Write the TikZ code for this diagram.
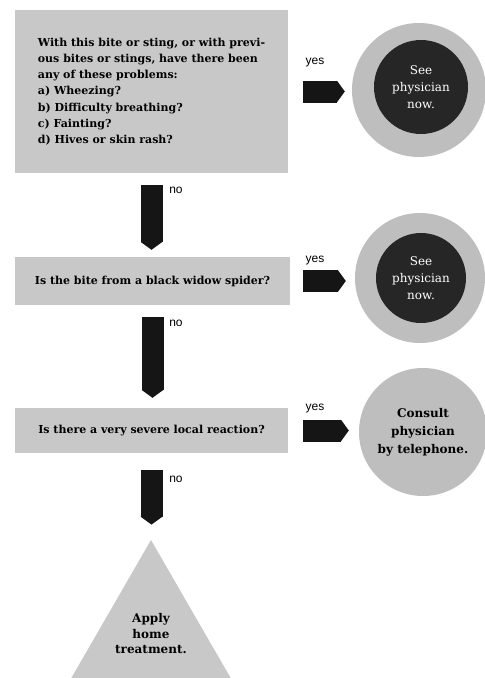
\documentclass[tikz,border=0pt]{standalone}
\usepackage{fontspec}
\setmainfont{DejaVu Serif}
\setsansfont{Liberation Sans}
\usetikzlibrary{arrows.meta,shapes.geometric}
\definecolor{boxgray}{HTML}{C8C8C8}
\definecolor{ringgray}{HTML}{BEBEBE}
\definecolor{darkx}{HTML}{262626}
\definecolor{inkx}{HTML}{151515}
\tikzset{
  qbox/.style={fill=boxgray,minimum width=273pt,inner sep=0pt,font=\bfseries\fontsize{11}{16.2}\selectfont},
  ring/.style={circle,fill=ringgray,inner sep=0pt},
  core/.style={circle,fill=darkx,inner sep=0pt,text=white,align=center,font=\fontsize{12}{17}\selectfont},
  fat/.style={line width=22pt,draw=inkx,-{Triangle[length=8pt,width=22pt,line width=0pt]}},
  lbl/.style={font=\sffamily\fontsize{12}{12}\selectfont,inner sep=0pt}
}
\begin{document}
\begin{tikzpicture}[x=1pt,y=-1pt]
\useasboundingbox[fill=white] (0,0) rectangle (485,678);
% questions
\node[qbox,minimum height=163pt,align=left] (q1) at (151.5,91.5) {With this bite or sting, or with previ-\\ous bites or stings, have there been\\any of these problems:\\a) Wheezing?\\b) Difficulty breathing?\\c) Fainting?\\d) Hives or skin rash?};
\node[qbox,minimum width=275pt,minimum height=48pt] (q2) at (152.5,281) {Is the bite from a black widow spider?};
\node[qbox,minimum height=45pt] (q3) at (151.5,430.5) {Is there a very severe local reaction?};
% answers
\node[ring,minimum size=134pt] (c1) at (419,90) {};
\node[core,minimum size=94pt] (c1in) at (421,87) {See\\physician\\now.};
\node[ring,minimum size=130pt] (c2) at (420,278) {};
\node[core,minimum size=90pt] (c2in) at (421,278) {See\\physician\\now.};
\node[ring,minimum size=128pt,align=center,font=\bfseries\fontsize{12}{18}\selectfont] (c3) at (423,432) {Consult\\physician\\by telephone.};
\node[regular polygon,regular polygon sides=3,minimum size=184pt,fill=boxgray,inner sep=0pt] (home) at (151,632) {};
\node[align=center,font=\bfseries\fontsize{12}{15.5}\selectfont] (hometxt) at (151,634) {Apply\\home\\treatment.};
% arrows
\draw[fat,shorten <=15pt,shorten >=7pt] (q1.east) -- (q1.east -| c1.west);
\draw[fat,shorten <=13pt,shorten >=9pt] (q2.east) -- (q2.east -| c2.west);
\draw[fat,shorten <=15pt,shorten >=10pt] (q3.east) -- (q3.east -| c3.west);
\draw[fat,shorten <=12pt,shorten >=7pt] (q1.south) -- (q1.south |- q2.north);
\draw[fat,shorten <=12pt,shorten >=10pt] (q2.south) -- (q2.south |- q3.north);
\draw[fat,shorten <=17pt,shorten >=15pt] (q3.south) -- (q3.south |- home.north);
\node[lbl] (y1) at (315,63) {yes};
\node[lbl] (y2) at (315,261) {yes};
\node[lbl] (y3) at (315,409) {yes};
\node[lbl] (n1) at (176,190) {no};
\node[lbl] (n2) at (176,323) {no};
\node[lbl] (n3) at (176,479) {no};
\end{tikzpicture}
\end{document}
